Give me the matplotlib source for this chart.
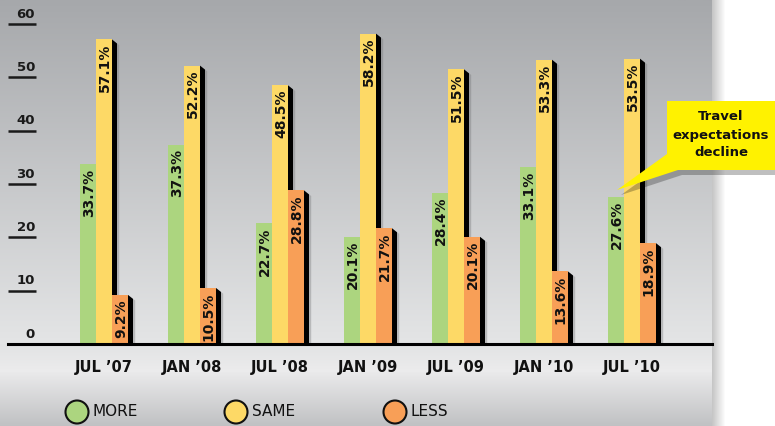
import numpy as np
import matplotlib
matplotlib.use("Agg")
import matplotlib.pyplot as plt
from matplotlib.patches import Polygon, Rectangle, Circle

# ---------------------------- data ----------------------------
periods = ["JUL \u201907", "JAN \u201908", "JUL \u201908", "JAN \u201909",
           "JUL \u201909", "JAN \u201910", "JUL \u201910"]
more = [33.7, 37.3, 22.7, 20.1, 28.4, 33.1, 27.6]
same = [57.1, 52.2, 48.5, 58.2, 51.5, 53.3, 53.5]
less = [9.2, 10.5, 28.8, 21.7, 20.1, 13.6, 18.9]
series_names = ["MORE", "SAME", "LESS"]
series_colors = ["#acd57f", "#fdd966", "#f89f57"]
y_ticks = [0, 10, 20, 30, 40, 50, 60]
callout_text = "Travel\nexpectations\ndecline"

W, H = 775, 426
fig = plt.figure(figsize=(W / 100, H / 100), dpi=100)
fig.patch.set_facecolor("white")

# background axes in pixel coordinates
bg = fig.add_axes([0, 0, 1, 1], zorder=0)
bg.set_xlim(0, W)
bg.set_ylim(H, 0)
bg.axis("off")

base_px = 344
panel_right = 712


def vgrad(ax, x0, x1, y0, y1, c_top, c_bot, zorder=0):
    c0 = np.array(matplotlib.colors.to_rgb(c_top))
    c1 = np.array(matplotlib.colors.to_rgb(c_bot))
    t = np.linspace(0, 1, 256)[:, None]
    img = (c0 * (1 - t) + c1 * t)[:, None, :]
    ax.imshow(img, extent=(x0, x1, y1, y0), aspect="auto", zorder=zorder,
              interpolation="bilinear")


# panel shadow on the right
for k, a in enumerate(np.linspace(0.45, 0.0, 14)):
    bg.add_patch(Rectangle((panel_right + k, 0), 1, H, color="black",
                           alpha=a * 0.5, lw=0, zorder=0))
vgrad(bg, 0, panel_right, 0, base_px, "#a6a8ab", "#e4e5e6", zorder=1)
vgrad(bg, 0, panel_right, base_px, 372, "#e2e3e4", "#ececed", zorder=1)
vgrad(bg, 0, panel_right, 372, H, "#eaeaeb", "#c0c1c3", zorder=1)
bg.set_xlim(0, W)
bg.set_ylim(H, 0)

# main plot axes
ax_left, ax_right = 8, panel_right
ax = fig.add_axes([ax_left / W, (H - base_px) / H,
                   (ax_right - ax_left) / W, base_px / H], zorder=2)
ax.patch.set_alpha(0)
px_per_group = 88
first_center = 104
x = np.arange(len(periods))
ax.set_xlim((ax_left - first_center) / px_per_group,
            (ax_right - first_center) / px_per_group)
ymax = base_px / (53.33 / 10)
ax.set_ylim(0, ymax)
for s in ax.spines.values():
    s.set_visible(False)
ax.set_xticks([])
ax.set_yticks([])

bw = 16 / px_per_group
sx = 5 / px_per_group          # shadow width
sy = 4 / 5.333                 # shadow drop
for j, vals in enumerate([more, same, less]):
    xs = x + (j - 1) * bw
    for xi, v in zip(xs, vals):
        right = xi + bw / 2
        # soft gray shadow
        ax.add_patch(Polygon([(right, v), (right + sx + 0.025, v - sy - 0.3),
                              (right + sx + 0.025, 0), (right, 0)],
                             closed=True, color="#6f7072", alpha=0.35, lw=0,
                             zorder=1))
        ax.add_patch(Polygon([(right, v), (right + sx, v - sy),
                              (right + sx, 0), (right, 0)],
                             closed=True, color="black", lw=0, zorder=2))
    ax.bar(xs, vals, width=bw, color=series_colors[j], zorder=3, lw=0)
    for xi, v in zip(xs, vals):
        ax.text(xi + 0.01, v - 0.8, f"{v:.1f}%", rotation=90, ha="center",
                va="top", fontsize=10, fontweight="bold", color="#111111",
                zorder=4)

ax.axhline(0, color="black", lw=2.2, zorder=5, clip_on=False)

# y tick labels with underlines
for t in y_ticks:
    ax.text((35 - first_center) / px_per_group, t + 0.6, str(t), ha="right",
            va="bottom", fontsize=9.5, fontweight="bold", color="#1a1a1a")
    if t > 0:
        ax.plot([(ax_left - first_center) / px_per_group,
                 (36 - first_center) / px_per_group], [t, t],
                color="#1a1a1a", lw=1.8, solid_capstyle="butt")

# x labels
for xi, lab in zip(x, periods):
    ax.text(xi, -4.5, lab, ha="center", va="center", fontsize=10.5,
            fontweight="bold", color="#111111", clip_on=False)

# legend
leg_x = [77, 236, 395]
for cx, name, col in zip(leg_x, series_names, series_colors):
    bg.add_patch(Circle((cx, 412), 11.5, facecolor=col, edgecolor="#111111",
                        lw=1.5, zorder=3))
    bg.text(cx + 16, 412, name, ha="left", va="center", fontsize=11,
            fontweight="medium", color="#111111", zorder=3)

# callout
ov = fig.add_axes([0, 0, 1, 1], zorder=3)
ov.set_xlim(0, W)
ov.set_ylim(H, 0)
ov.axis("off")
ov.patch.set_alpha(0)
box = [(667, 101), (W + 5, 101), (W + 5, 170), (678, 170), (617, 190),
       (667, 154)]
shadow = [(px + 4, py + 5) for px, py in box]
ov.add_patch(Polygon(shadow, closed=True, color="black", alpha=0.25, lw=0))
ov.add_patch(Polygon(box, closed=True, color="#fff200", lw=0))
ov.text(721, 135, callout_text, ha="center", va="center", fontsize=9.5,
        fontweight="bold", color="#111111", linespacing=1.5)

fig.savefig("out.png", dpi=100)
